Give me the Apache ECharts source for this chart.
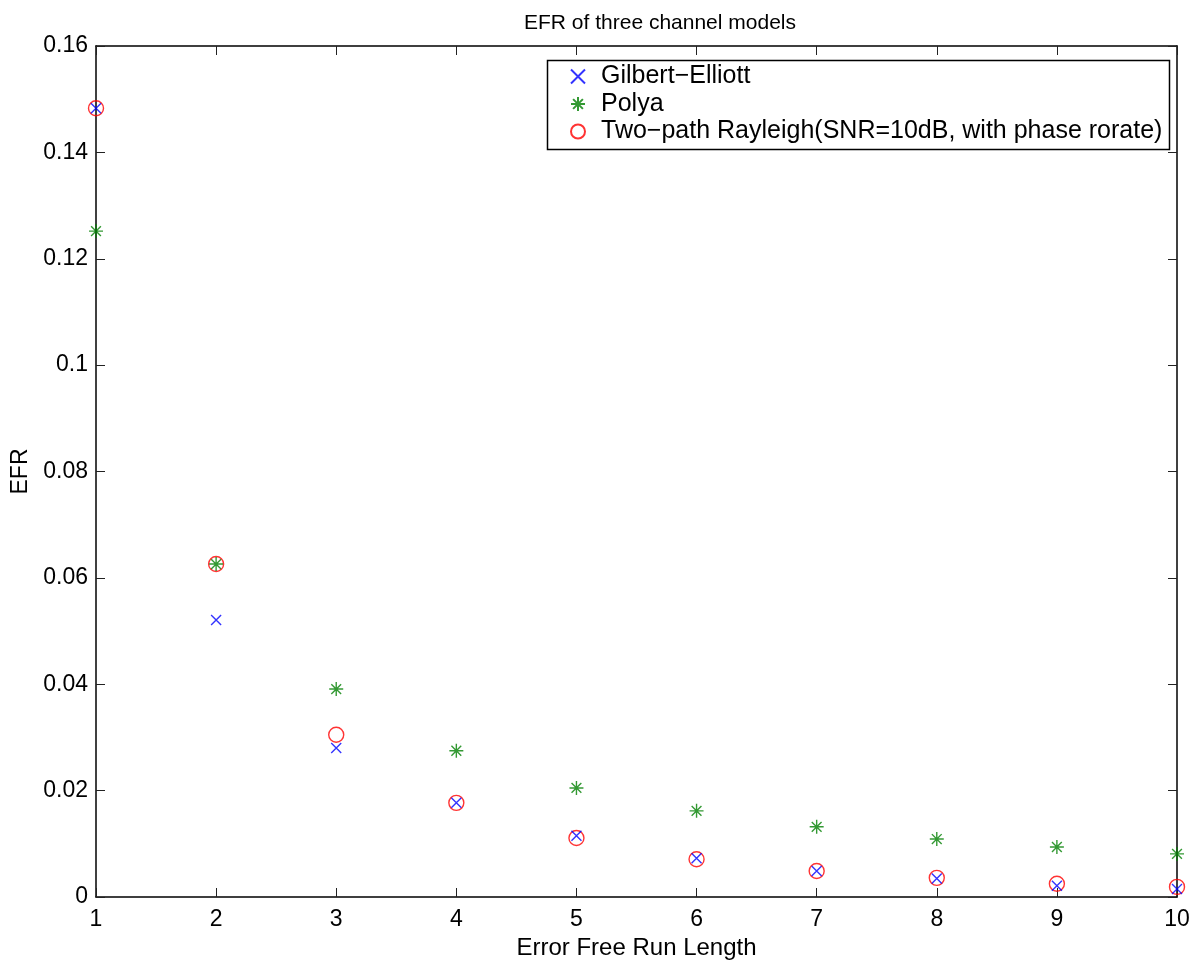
<!DOCTYPE html>
<html>
<head>
<meta charset="utf-8">
<script src="https://cdn.jsdelivr.net/npm/echarts@6/dist/echarts.min.js"></script>
<style>
html,body{margin:0;padding:0;background:#fff;}
#c{width:1204px;height:967px;}
</style>
</head>
<body>
<div id="c"></div>
<script>
var runLength = [1, 2, 3, 4, 5, 6, 7, 8, 9, 10];
var gilbertElliott = [0.1483, 0.0521, 0.0280, 0.0177, 0.0115, 0.0073, 0.0049, 0.0035, 0.0021, 0.0015];
var polya = [0.1252, 0.0626, 0.0391, 0.0275, 0.0205, 0.0162, 0.0132, 0.0109, 0.0094, 0.0081];
var twoPath = [0.1483, 0.0626, 0.0305, 0.0177, 0.0111, 0.0071, 0.0049, 0.0036, 0.0025, 0.0019];
var seriesNames = ['Gilbert\u2212Elliott', 'Polya', 'Two\u2212path Rayleigh(SNR=10dB, with phase rorate)'];

function pairs(xs, ys) { return xs.map(function (x, i) { return [x, ys[i]]; }); }

var FONT = '"Liberation Sans", Arial, Helvetica, sans-serif';
var chart = echarts.init(document.getElementById('c'));
function axisCommon() {
  return {
    axisLine: { show: true, onZero: false, lineStyle: { color: '#000', width: 1.5 } },
    axisTick: { show: true, inside: true, length: 9, lineStyle: { color: '#222', width: 1 } },
    splitLine: { show: false }
  };
}
chart.setOption({
  backgroundColor: '#fff',
  animation: false,
  title: {
    text: 'EFR of three channel models',
    left: 655, top: 8, textAlign: 'center',
    textStyle: { fontFamily: FONT, fontSize: 21, fontWeight: 'normal', color: '#000' }
  },
  grid: { left: 96, right: 27, top: 46, bottom: 70, containLabel: false, outerBoundsMode: 'none' },
  legend: {
    orient: 'vertical',
    left: 570, top: 64,
    itemWidth: 22, itemHeight: 14, itemGap: 2.5,
    padding: 0,
    textStyle: { fontFamily: FONT, fontSize: 25, lineHeight: 25, color: '#000', padding: [0, 0, 0, 7] },
    data: seriesNames
  },
  graphic: [{
    type: 'rect', left: 545, top: 58, z: 10, silent: true,
    shape: { width: 622, height: 89 },
    style: { fill: 'none', stroke: '#000', lineWidth: 1.5 }
  }],
  xAxis: [
    Object.assign(axisCommon(), {
      type: 'value', min: 1, max: 10, interval: 1, position: 'bottom',
      name: 'Error Free Run Length', nameLocation: 'middle', nameGap: 36,
      nameTextStyle: { fontFamily: FONT, fontSize: 24, color: '#000' },
      axisLabel: { fontFamily: FONT, fontSize: 23, color: '#000', margin: 11 }
    }),
    Object.assign(axisCommon(), {
      type: 'value', min: 1, max: 10, interval: 1, position: 'top',
      axisLabel: { show: false }
    })
  ],
  yAxis: [
    Object.assign(axisCommon(), {
      type: 'value', min: 0, max: 0.16, interval: 0.02, position: 'left',
      name: 'EFR', nameLocation: 'middle', nameGap: 61, nameRotate: 90,
      nameTextStyle: { fontFamily: FONT, fontSize: 23, color: '#000' },
      axisLabel: { fontFamily: FONT, fontSize: 23, color: '#000', margin: 8,
        formatter: function (v) { return String(Math.round(v * 100) / 100); } }
    }),
    Object.assign(axisCommon(), {
      type: 'value', min: 0, max: 0.16, interval: 0.02, position: 'right',
      axisLabel: { show: false }
    })
  ],
  series: [
    {
      name: seriesNames[0], type: 'scatter', data: pairs(runLength, gilbertElliott),
      symbol: 'path://M0,0L10,10M10,0L0,10', symbolSize: 10, z: 4,
      itemStyle: { color: 'rgba(0,0,0,0)', borderColor: '#0000ff', borderWidth: 1.4 }
    },
    {
      name: seriesNames[1], type: 'scatter', data: pairs(runLength, polya),
      symbol: 'path://M5,0L5,10M0,5L10,5M1.5,1.5L8.5,8.5M8.5,1.5L1.5,8.5', symbolSize: 14, z: 3,
      itemStyle: { color: 'rgba(0,0,0,0)', borderColor: '#008000', borderWidth: 1.4 }
    },
    {
      name: seriesNames[2], type: 'scatter', data: pairs(runLength, twoPath),
      symbol: 'circle', symbolSize: 15, z: 2,
      itemStyle: { color: 'rgba(0,0,0,0)', borderColor: '#ff0000', borderWidth: 1.4 }
    }
  ]
});
</script>
</body>
</html>
